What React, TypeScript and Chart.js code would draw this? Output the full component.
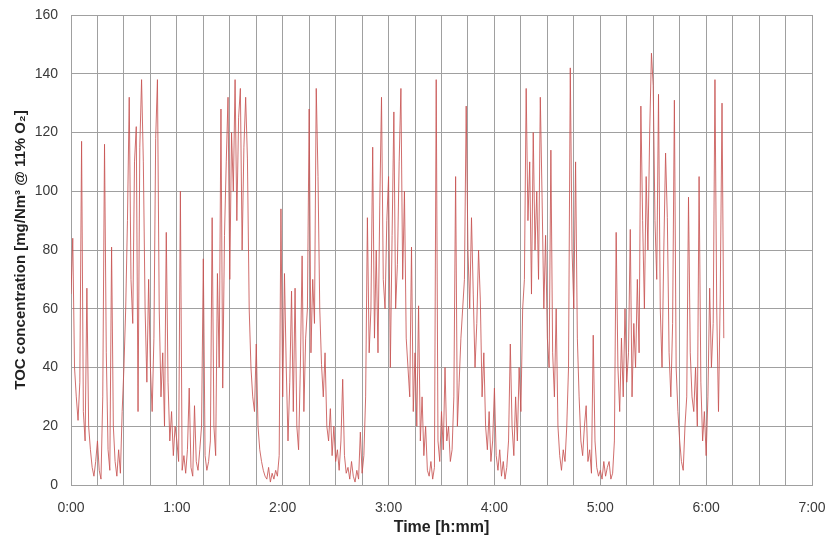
import React, { useEffect, useRef } from "react";
import { Chart, registerables } from "chart.js";

Chart.register(...registerables);

// TOC concentration, one reading per minute from 0:00
const tocValues: number[] = [
  65, 84, 40, 30, 22, 35, 117, 25, 15, 67,
  20, 12, 6, 3, 8, 15, 5, 2, 30, 116,
  45, 12, 5, 81, 20, 8, 3, 12, 4, 25,
  40, 60, 90, 132, 70, 55, 110, 122, 25, 115,
  138, 110, 60, 35, 70, 40, 25, 50, 118, 138,
  60, 30, 45, 20, 86, 35, 15, 25, 10, 20,
  15, 8, 100, 5, 10, 4, 12, 33, 6, 3,
  27, 8, 5, 12, 20, 77, 10, 5, 8, 15,
  91, 20, 10, 72, 40, 128, 33, 85, 110, 132,
  70, 120, 100, 138, 90, 125, 135, 80, 115, 132,
  111, 60, 40, 30, 25, 48, 20, 12, 8, 5,
  3, 2, 6, 1, 4, 2, 5, 3, 10, 94,
  30, 72, 40, 15, 35, 66, 25, 67, 20, 12,
  40, 78, 25, 50, 60, 128, 45, 70, 55, 135,
  105, 60, 41, 30, 45, 20, 15, 26, 10, 20,
  8, 12, 5, 15, 36, 10, 4, 6, 2, 8,
  3, 1, 5, 2, 18, 4, 10, 30, 91, 45,
  60, 115, 50, 80, 45, 95, 132, 70, 60, 90,
  105, 40, 85, 127, 60, 75, 110, 135, 70, 100,
  50, 40, 30, 81, 25, 45, 20, 61, 15, 30,
  10, 20, 5, 3, 8, 2, 6, 138, 15, 8,
  25, 12, 40, 15, 20, 8, 12, 30, 105, 20,
  35, 50, 60, 70, 129, 80, 60, 91, 65, 40,
  55, 80, 63, 30, 45, 20, 12, 25, 8, 15,
  33, 10, 5, 12, 3, 8, 2, 6, 15, 48,
  20, 10, 30, 15, 40, 25, 60, 70, 135, 90,
  110, 65, 120, 80, 100, 70, 132, 98, 60, 85,
  50, 40, 114, 45, 30, 60, 20, 10, 5, 12,
  8, 20, 40, 142, 80, 60, 110, 50, 30, 15,
  10, 20, 27, 8, 12, 4, 51, 15, 6, 3,
  5, 2, 8, 3, 6, 8, 2, 4, 15, 86,
  40, 25, 50, 30, 60, 35, 45, 87, 30, 55,
  40, 70, 45, 129, 90, 60, 105, 80, 120, 147,
  136, 90, 70, 133, 60, 40, 80, 113, 91, 45,
  30, 55, 131, 40, 25, 15, 8, 5, 20, 30,
  98, 45, 30, 25, 40, 20, 105, 35, 15, 25,
  10, 30, 67, 40, 55, 138, 60, 25, 65, 130,
  50,
];

const xTickLabels = ["0:00", "1:00", "2:00", "3:00", "4:00", "5:00", "6:00", "7:00"];
const yTitle = "TOC concentration [mg/Nm³ @ 11% O₂]";
const xTitle = "Time [h:mm]";

const FONT = "'Liberation Sans', Arial, sans-serif";
const GRID = "#a0a0a0";
const TEXT = "#3a3a3a";

export default function App() {
  const ref = useRef<HTMLCanvasElement>(null);

  useEffect(() => {
    if (!ref.current) return;
    Chart.defaults.font.family = FONT;
    const chart = new Chart(ref.current, {
      type: "line",
      data: {
        datasets: [
          {
            data: tocValues.map((v, i) => ({ x: i, y: v })),
            borderColor: "rgba(200,85,84,0.85)",
            borderWidth: 1,
            pointRadius: 0,
            tension: 0,
            fill: false,
          },
        ],
      },
      options: {
        responsive: false,
        animation: false,
        layout: { padding: { left: 0, right: 18, top: 15, bottom: 0 } },
        plugins: { legend: { display: false }, tooltip: { enabled: false } },
        scales: {
          x: {
            type: "linear",
            min: 0,
            max: 420,
            afterFit: (s: any) => {
              s.height = 54;
              s.paddingLeft = 0;
              s.paddingRight = 0;
            },
            ticks: {
              stepSize: 15,
              maxTicksLimit: 100,
              autoSkip: false,
              maxRotation: 0,
              padding: 15,
              color: TEXT,
              font: { size: 14, family: FONT },
              callback: (v: any) => (Number(v) % 60 === 0 ? xTickLabels[Number(v) / 60] : ""),
            },
            grid: { color: GRID, drawTicks: false, lineWidth: 1 },
            border: { color: GRID },
            title: {
              display: true,
              text: xTitle,
              color: "#222",
              font: { size: 16, weight: "bold", family: FONT },
              padding: { top: 0, bottom: 2 },
            },
          },
          y: {
            min: 0,
            max: 160,
            afterFit: (s: any) => {
              s.width = 71;
              s.paddingTop = 0;
              s.paddingBottom = 0;
            },
            ticks: {
              stepSize: 20,
              padding: 13,
              color: TEXT,
              font: { size: 14, family: FONT },
            },
            grid: { color: GRID, drawTicks: false, lineWidth: 1 },
            border: { color: GRID },
            title: {
              display: true,
              text: yTitle,
              color: "#222",
              font: { size: 15, weight: "bold", family: FONT },
              padding: { top: 12, bottom: 0 },
            },
          },
        },
      },
    } as any);
    return () => chart.destroy();
  }, []);

  return (
    <div style={{ position: "fixed", left: 0, top: 0, width: 830, height: 539, background: "#fff" }}>
      <canvas ref={ref} width={830} height={539} style={{ width: 830, height: 539 }} />
    </div>
  );
}
